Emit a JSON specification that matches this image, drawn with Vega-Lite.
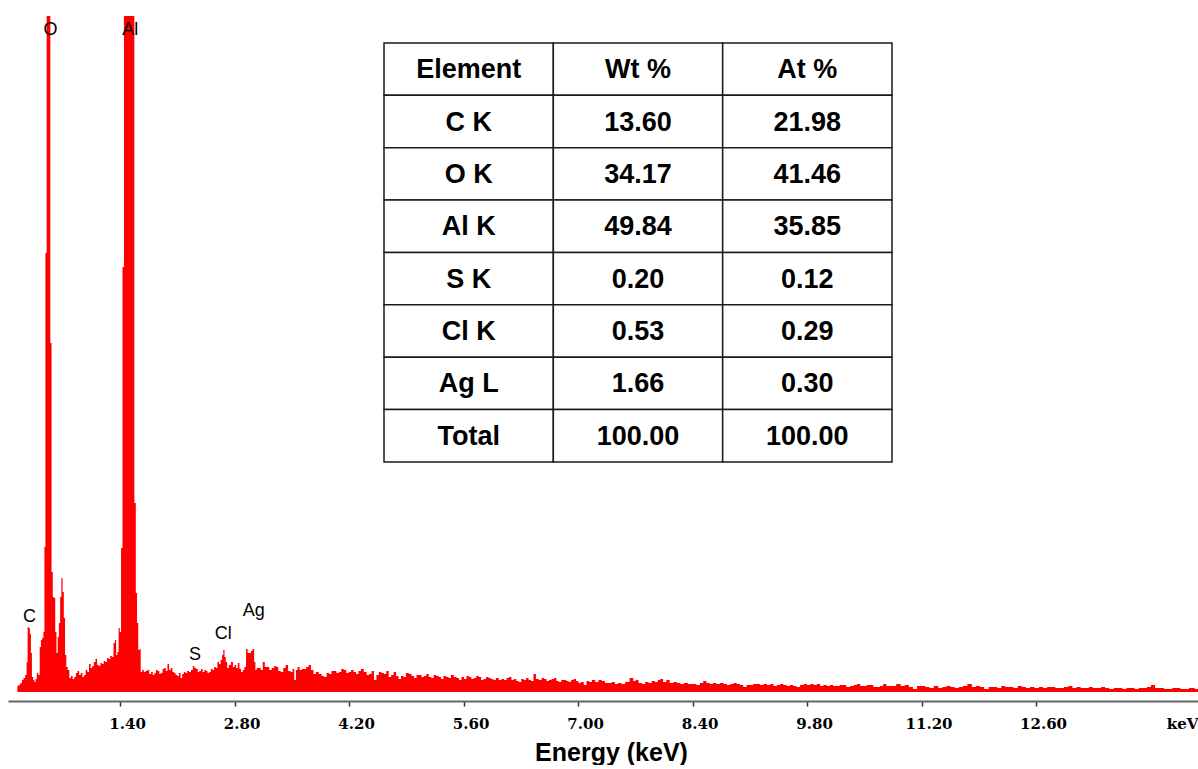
{
  "$schema": "https://vega.github.io/schema/vega-lite/v6.json",
  "width": 1190,
  "height": 676,
  "padding": {"left": 8, "top": 16, "right": 0, "bottom": 0},
  "background": "white",
  "config": {"view": {"stroke": null}},
  "datasets": {
    "spectrum": [
      {"energy":0.145,"counts":6},{"energy":0.17,"counts":7},{"energy":0.19,"counts":9},{"energy":0.21,"counts":12},{"energy":0.23,"counts":14},{"energy":0.25,"counts":17},{"energy":0.265,"counts":30},{"energy":0.275,"counts":65},{"energy":0.29,"counts":64},{"energy":0.305,"counts":58},{"energy":0.315,"counts":39},{"energy":0.33,"counts":15},{"energy":0.345,"counts":12},{"energy":0.36,"counts":10},{"energy":0.375,"counts":13},{"energy":0.39,"counts":19},{"energy":0.41,"counts":17},{"energy":0.425,"counts":45},{"energy":0.44,"counts":52},{"energy":0.455,"counts":54},{"energy":0.47,"counts":60},{"energy":0.48,"counts":145},{"energy":0.495,"counts":439},{"energy":0.51,"counts":1000},{"energy":0.525,"counts":1000},{"energy":0.54,"counts":1000},{"energy":0.555,"counts":349},{"energy":0.57,"counts":120},{"energy":0.585,"counts":95},{"energy":0.6,"counts":94},{"energy":0.615,"counts":60},{"energy":0.63,"counts":39},{"energy":0.645,"counts":55},{"energy":0.66,"counts":69},{"energy":0.675,"counts":95},{"energy":0.69,"counts":114},{"energy":0.705,"counts":100},{"energy":0.72,"counts":74},{"energy":0.735,"counts":37},{"energy":0.75,"counts":25},{"energy":0.77,"counts":22},{"energy":0.79,"counts":14},{"energy":0.81,"counts":16},{"energy":0.83,"counts":13},{"energy":0.85,"counts":15},{"energy":0.87,"counts":19},{"energy":0.89,"counts":21},{"energy":0.91,"counts":17},{"energy":0.93,"counts":19},{"energy":0.95,"counts":15},{"energy":0.97,"counts":17},{"energy":0.99,"counts":22},{"energy":1.01,"counts":20},{"energy":1.03,"counts":28},{"energy":1.05,"counts":24},{"energy":1.07,"counts":26},{"energy":1.09,"counts":30},{"energy":1.11,"counts":33},{"energy":1.13,"counts":27},{"energy":1.15,"counts":26},{"energy":1.17,"counts":29},{"energy":1.19,"counts":28},{"energy":1.21,"counts":31},{"energy":1.23,"counts":30},{"energy":1.25,"counts":34},{"energy":1.27,"counts":33},{"energy":1.29,"counts":36},{"energy":1.31,"counts":35},{"energy":1.33,"counts":49},{"energy":1.345,"counts":52},{"energy":1.36,"counts":37},{"energy":1.375,"counts":40},{"energy":1.39,"counts":64},{"energy":1.405,"counts":60},{"energy":1.42,"counts":144},{"energy":1.44,"counts":425},{"energy":1.455,"counts":1000},{"energy":1.48,"counts":1000},{"energy":1.5,"counts":1000},{"energy":1.52,"counts":1000},{"energy":1.545,"counts":1000},{"energy":1.565,"counts":1000},{"energy":1.585,"counts":189},{"energy":1.6,"counts":99},{"energy":1.615,"counts":69},{"energy":1.63,"counts":42},{"energy":1.645,"counts":43},{"energy":1.66,"counts":20},{"energy":1.68,"counts":22},{"energy":1.7,"counts":20},{"energy":1.72,"counts":21},{"energy":1.745,"counts":22},{"energy":1.77,"counts":18},{"energy":1.79,"counts":20},{"energy":1.81,"counts":17},{"energy":1.83,"counts":19},{"energy":1.85,"counts":22},{"energy":1.87,"counts":21},{"energy":1.89,"counts":18},{"energy":1.91,"counts":19},{"energy":1.93,"counts":23},{"energy":1.95,"counts":24},{"energy":1.97,"counts":21},{"energy":1.99,"counts":28},{"energy":2.01,"counts":22},{"energy":2.03,"counts":24},{"energy":2.05,"counts":20},{"energy":2.07,"counts":19},{"energy":2.09,"counts":17},{"energy":2.11,"counts":16},{"energy":2.13,"counts":19},{"energy":2.15,"counts":14},{"energy":2.17,"counts":18},{"energy":2.19,"counts":20},{"energy":2.21,"counts":19},{"energy":2.23,"counts":21},{"energy":2.256,"counts":20},{"energy":2.28,"counts":22},{"energy":2.3,"counts":26},{"energy":2.32,"counts":24},{"energy":2.34,"counts":23},{"energy":2.36,"counts":20},{"energy":2.38,"counts":21},{"energy":2.4,"counts":23},{"energy":2.42,"counts":20},{"energy":2.44,"counts":22},{"energy":2.46,"counts":21},{"energy":2.48,"counts":19},{"energy":2.5,"counts":20},{"energy":2.52,"counts":23},{"energy":2.54,"counts":22},{"energy":2.56,"counts":25},{"energy":2.58,"counts":24},{"energy":2.6,"counts":30},{"energy":2.62,"counts":28},{"energy":2.64,"counts":32},{"energy":2.655,"counts":37},{"energy":2.67,"counts":42},{"energy":2.685,"counts":35},{"energy":2.7,"counts":30},{"energy":2.72,"counts":24},{"energy":2.74,"counts":27},{"energy":2.77,"counts":30},{"energy":2.79,"counts":25},{"energy":2.81,"counts":27},{"energy":2.83,"counts":24},{"energy":2.85,"counts":29},{"energy":2.87,"counts":23},{"energy":2.89,"counts":20},{"energy":2.91,"counts":22},{"energy":2.93,"counts":25},{"energy":2.95,"counts":43},{"energy":2.97,"counts":39},{"energy":2.99,"counts":39},{"energy":3.01,"counts":41},{"energy":3.03,"counts":43},{"energy":3.05,"counts":30},{"energy":3.06,"counts":22},{"energy":3.08,"counts":24},{"energy":3.11,"counts":24},{"energy":3.13,"counts":22},{"energy":3.16,"counts":30},{"energy":3.18,"counts":25},{"energy":3.21,"counts":25},{"energy":3.24,"counts":22},{"energy":3.27,"counts":24},{"energy":3.3,"counts":26},{"energy":3.32,"counts":25},{"energy":3.35,"counts":21},{"energy":3.38,"counts":20},{"energy":3.41,"counts":24},{"energy":3.44,"counts":27},{"energy":3.47,"counts":21},{"energy":3.5,"counts":20},{"energy":3.52,"counts":23},{"energy":3.54,"counts":12},{"energy":3.56,"counts":22},{"energy":3.58,"counts":25},{"energy":3.61,"counts":22},{"energy":3.64,"counts":23},{"energy":3.66,"counts":23},{"energy":3.69,"counts":25},{"energy":3.72,"counts":27},{"energy":3.75,"counts":22},{"energy":3.78,"counts":18},{"energy":3.81,"counts":20},{"energy":3.85,"counts":18},{"energy":3.88,"counts":16},{"energy":3.91,"counts":15},{"energy":3.94,"counts":19},{"energy":3.97,"counts":18},{"energy":4.0,"counts":21},{"energy":4.03,"counts":21},{"energy":4.06,"counts":19},{"energy":4.09,"counts":20},{"energy":4.12,"counts":23},{"energy":4.15,"counts":22},{"energy":4.18,"counts":19},{"energy":4.21,"counts":20},{"energy":4.24,"counts":22},{"energy":4.27,"counts":20},{"energy":4.3,"counts":18},{"energy":4.33,"counts":21},{"energy":4.36,"counts":23},{"energy":4.4,"counts":20},{"energy":4.43,"counts":17},{"energy":4.46,"counts":18},{"energy":4.49,"counts":21},{"energy":4.52,"counts":12},{"energy":4.55,"counts":17},{"energy":4.58,"counts":20},{"energy":4.61,"counts":19},{"energy":4.64,"counts":18},{"energy":4.67,"counts":21},{"energy":4.7,"counts":15},{"energy":4.73,"counts":17},{"energy":4.76,"counts":20},{"energy":4.79,"counts":16},{"energy":4.82,"counts":13},{"energy":4.85,"counts":16},{"energy":4.88,"counts":15},{"energy":4.91,"counts":19},{"energy":4.95,"counts":18},{"energy":4.98,"counts":16},{"energy":5.01,"counts":14},{"energy":5.04,"counts":17},{"energy":5.07,"counts":17},{"energy":5.1,"counts":15},{"energy":5.13,"counts":16},{"energy":5.16,"counts":18},{"energy":5.19,"counts":15},{"energy":5.22,"counts":14},{"energy":5.25,"counts":17},{"energy":5.28,"counts":16},{"energy":5.31,"counts":15},{"energy":5.34,"counts":13},{"energy":5.37,"counts":16},{"energy":5.4,"counts":15},{"energy":5.43,"counts":14},{"energy":5.46,"counts":17},{"energy":5.5,"counts":15},{"energy":5.53,"counts":14},{"energy":5.56,"counts":12},{"energy":5.59,"counts":15},{"energy":5.62,"counts":13},{"energy":5.65,"counts":16},{"energy":5.68,"counts":15},{"energy":5.71,"counts":13},{"energy":5.74,"counts":14},{"energy":5.77,"counts":16},{"energy":5.8,"counts":15},{"energy":5.83,"counts":12},{"energy":5.86,"counts":13},{"energy":5.89,"counts":15},{"energy":5.92,"counts":14},{"energy":5.95,"counts":13},{"energy":5.98,"counts":12},{"energy":6.01,"counts":14},{"energy":6.05,"counts":12},{"energy":6.08,"counts":13},{"energy":6.11,"counts":12},{"energy":6.14,"counts":14},{"energy":6.17,"counts":15},{"energy":6.2,"counts":12},{"energy":6.23,"counts":13},{"energy":6.26,"counts":11},{"energy":6.29,"counts":10},{"energy":6.32,"counts":13},{"energy":6.35,"counts":12},{"energy":6.38,"counts":14},{"energy":6.41,"counts":12},{"energy":6.44,"counts":11},{"energy":6.47,"counts":18},{"energy":6.5,"counts":13},{"energy":6.54,"counts":12},{"energy":6.57,"counts":14},{"energy":6.6,"counts":13},{"energy":6.63,"counts":11},{"energy":6.66,"counts":12},{"energy":6.69,"counts":13},{"energy":6.72,"counts":14},{"energy":6.75,"counts":11},{"energy":6.78,"counts":10},{"energy":6.81,"counts":12},{"energy":6.84,"counts":12},{"energy":6.87,"counts":11},{"energy":6.9,"counts":10},{"energy":6.93,"counts":12},{"energy":6.96,"counts":13},{"energy":6.99,"counts":11},{"energy":7.02,"counts":9},{"energy":7.05,"counts":10},{"energy":7.09,"counts":7},{"energy":7.12,"counts":11},{"energy":7.15,"counts":10},{"energy":7.19,"counts":12},{"energy":7.23,"counts":10},{"energy":7.27,"counts":12},{"energy":7.31,"counts":11},{"energy":7.35,"counts":9},{"energy":7.39,"counts":9},{"energy":7.43,"counts":10},{"energy":7.47,"counts":8},{"energy":7.51,"counts":9},{"energy":7.55,"counts":8},{"energy":7.6,"counts":10},{"energy":7.66,"counts":14},{"energy":7.69,"counts":11},{"energy":7.72,"counts":12},{"energy":7.76,"counts":9},{"energy":7.8,"counts":8},{"energy":7.84,"counts":10},{"energy":7.88,"counts":9},{"energy":7.92,"counts":11},{"energy":7.96,"counts":10},{"energy":7.99,"counts":12},{"energy":8.02,"counts":13},{"energy":8.06,"counts":10},{"energy":8.1,"counts":12},{"energy":8.14,"counts":9},{"energy":8.19,"counts":10},{"energy":8.23,"counts":9},{"energy":8.27,"counts":8},{"energy":8.32,"counts":9},{"energy":8.37,"counts":8},{"energy":8.42,"counts":8},{"energy":8.47,"counts":7},{"energy":8.51,"counts":9},{"energy":8.55,"counts":11},{"energy":8.59,"counts":9},{"energy":8.63,"counts":8},{"energy":8.67,"counts":9},{"energy":8.71,"counts":8},{"energy":8.76,"counts":9},{"energy":8.8,"counts":8},{"energy":8.84,"counts":7},{"energy":8.88,"counts":8},{"energy":8.92,"counts":9},{"energy":8.96,"counts":8},{"energy":9.0,"counts":7},{"energy":9.04,"counts":5},{"energy":9.08,"counts":7},{"energy":9.12,"counts":7},{"energy":9.16,"counts":8},{"energy":9.2,"counts":8},{"energy":9.25,"counts":7},{"energy":9.29,"counts":8},{"energy":9.33,"counts":7},{"energy":9.37,"counts":8},{"energy":9.41,"counts":6},{"energy":9.45,"counts":7},{"energy":9.49,"counts":8},{"energy":9.53,"counts":7},{"energy":9.57,"counts":6},{"energy":9.61,"counts":7},{"energy":9.65,"counts":6},{"energy":9.69,"counts":5},{"energy":9.74,"counts":7},{"energy":9.78,"counts":8},{"energy":9.82,"counts":7},{"energy":9.86,"counts":8},{"energy":9.9,"counts":7},{"energy":9.94,"counts":8},{"energy":9.98,"counts":6},{"energy":10.02,"counts":7},{"energy":10.06,"counts":6},{"energy":10.1,"counts":7},{"energy":10.14,"counts":6},{"energy":10.18,"counts":6},{"energy":10.22,"counts":7},{"energy":10.26,"counts":7},{"energy":10.3,"counts":5},{"energy":10.35,"counts":6},{"energy":10.39,"counts":7},{"energy":10.43,"counts":8},{"energy":10.47,"counts":6},{"energy":10.51,"counts":6},{"energy":10.55,"counts":7},{"energy":10.59,"counts":7},{"energy":10.63,"counts":5},{"energy":10.67,"counts":5},{"energy":10.71,"counts":6},{"energy":10.75,"counts":8},{"energy":10.79,"counts":6},{"energy":10.86,"counts":6},{"energy":10.92,"counts":8},{"energy":10.97,"counts":6},{"energy":11.02,"counts":7},{"energy":11.07,"counts":5},{"energy":11.12,"counts":3},{"energy":11.17,"counts":6},{"energy":11.22,"counts":6},{"energy":11.27,"counts":5},{"energy":11.32,"counts":4},{"energy":11.38,"counts":6},{"energy":11.43,"counts":4},{"energy":11.48,"counts":5},{"energy":11.53,"counts":6},{"energy":11.58,"counts":5},{"energy":11.63,"counts":4},{"energy":11.68,"counts":5},{"energy":11.73,"counts":6},{"energy":11.79,"counts":8},{"energy":11.84,"counts":5},{"energy":11.89,"counts":6},{"energy":11.94,"counts":5},{"energy":11.99,"counts":3},{"energy":12.05,"counts":5},{"energy":12.1,"counts":5},{"energy":12.15,"counts":4},{"energy":12.2,"counts":6},{"energy":12.25,"counts":5},{"energy":12.3,"counts":5},{"energy":12.35,"counts":4},{"energy":12.4,"counts":6},{"energy":12.45,"counts":5},{"energy":12.5,"counts":4},{"energy":12.55,"counts":5},{"energy":12.61,"counts":4},{"energy":12.66,"counts":5},{"energy":12.71,"counts":4},{"energy":12.76,"counts":5},{"energy":12.81,"counts":5},{"energy":12.86,"counts":4},{"energy":12.91,"counts":4},{"energy":12.97,"counts":5},{"energy":13.02,"counts":6},{"energy":13.07,"counts":4},{"energy":13.12,"counts":5},{"energy":13.17,"counts":4},{"energy":13.22,"counts":4},{"energy":13.27,"counts":5},{"energy":13.32,"counts":4},{"energy":13.37,"counts":4},{"energy":13.42,"counts":5},{"energy":13.47,"counts":4},{"energy":13.52,"counts":3},{"energy":13.58,"counts":4},{"energy":13.63,"counts":4},{"energy":13.68,"counts":3},{"energy":13.73,"counts":4},{"energy":13.78,"counts":4},{"energy":13.83,"counts":3},{"energy":13.88,"counts":4},{"energy":13.93,"counts":4},{"energy":13.98,"counts":5},{"energy":14.03,"counts":7},{"energy":14.08,"counts":4},{"energy":14.14,"counts":4},{"energy":14.19,"counts":3},{"energy":14.24,"counts":3},{"energy":14.29,"counts":4},{"energy":14.34,"counts":4},{"energy":14.39,"counts":3},{"energy":14.44,"counts":3},{"energy":14.5,"counts":4},{"energy":14.58,"counts":3}
    ],
    "peaks": [
      {"element":"O","energy":0.55,"labelY":657},
      {"element":"Al","energy":1.526,"labelY":657},
      {"element":"C","energy":0.293,"labelY":70},
      {"element":"S","energy":2.317,"labelY":32},
      {"element":"Cl","energy":2.663,"labelY":53},
      {"element":"Ag","energy":3.036,"labelY":76}
    ],
    "table": [
      {"r":0,"c":0,"v":"Element"},{"r":0,"c":1,"v":"Wt %"},{"r":0,"c":2,"v":"At %"},
      {"r":1,"c":0,"v":"C K"},{"r":1,"c":1,"v":"13.60"},{"r":1,"c":2,"v":"21.98"},
      {"r":2,"c":0,"v":"O K"},{"r":2,"c":1,"v":"34.17"},{"r":2,"c":2,"v":"41.46"},
      {"r":3,"c":0,"v":"Al K"},{"r":3,"c":1,"v":"49.84"},{"r":3,"c":2,"v":"35.85"},
      {"r":4,"c":0,"v":"S K"},{"r":4,"c":1,"v":"0.20"},{"r":4,"c":2,"v":"0.12"},
      {"r":5,"c":0,"v":"Cl K"},{"r":5,"c":1,"v":"0.53"},{"r":5,"c":2,"v":"0.29"},
      {"r":6,"c":0,"v":"Ag L"},{"r":6,"c":1,"v":"1.66"},{"r":6,"c":2,"v":"0.30"},
      {"r":7,"c":0,"v":"Total"},{"r":7,"c":1,"v":"100.00"},{"r":7,"c":2,"v":"100.00"}
    ]
  },
  "layer": [
    {
      "layer": [
        {
          "data": {"name": "spectrum"},
          "mark": {"type": "area", "interpolate": "step", "color": "#ff0000", "clip": true},
          "encoding": {
            "x": {
              "field": "energy", "type": "quantitative",
              "scale": {"domain": [0.03, 14.58], "nice": false, "zero": false},
              "axis": {
                "values": [1.4, 2.8, 4.2, 5.6, 7.0, 8.4, 9.8, 11.2, 12.6, 14.3],
                "labelExpr": "datum.value > 14 ? 'keV' : format(datum.value, '.2f')",
                "tickOpacity": {"condition": {"test": "datum.value > 14", "value": 0}, "value": 1},
                "offset": 9,
                "grid": false,
                "domainColor": "#666666",
                "domainWidth": 2,
                "tickColor": "#333333",
                "tickWidth": 1.5,
                "tickSize": 5,
                "labelFont": "DejaVu Serif",
                "labelFontWeight": "bold",
                "labelFontSize": 15,
                "labelColor": "#000000",
                "labelOffset": 7,
                "labelPadding": 10,
                "labelFlush": false,
                "labelOverlap": false,
                "title": "Energy (keV)",
                "titleFont": "Liberation Sans",
                "titleFontWeight": "bold",
                "titleFontSize": 25,
                "titleColor": "#000000",
                "titlePadding": 9,
                "titleX": 603
              }
            },
            "y": {
              "field": "counts", "type": "quantitative",
              "scale": {"domain": [0, 676], "nice": false},
              "axis": null
            }
          }
        },
        {
          "data": {"name": "peaks"},
          "mark": {"type": "text", "font": "Liberation Sans", "fontSize": 18, "baseline": "alphabetic", "align": "center", "color": "#000000"},
          "encoding": {
            "x": {"field": "energy", "type": "quantitative", "scale": {"domain": [0.03, 14.58], "nice": false, "zero": false}},
            "y": {"field": "labelY", "type": "quantitative", "scale": {"domain": [0, 676], "nice": false}},
            "text": {"field": "element"}
          }
        }
      ]
    },
    {
      "data": {"name": "table"},
      "encoding": {
        "x": {"field": "c", "type": "ordinal", "scale": {"domain": [-2, -1, 0, 1, 2, 3], "paddingInner": 0, "paddingOuter": 0.5138, "align": 0.2146, "round": false}, "axis": null},
        "y": {"field": "r", "type": "ordinal", "scale": {"domain": [0, 1, 2, 3, 4, 5, 6, 7, 8, 9, 10, 11], "paddingInner": 0, "paddingOuter": 0.4535, "align": 0.568, "round": false}, "axis": null}
      },
      "layer": [
        {"mark": {"type": "rect", "fill": "#ffffff", "stroke": "#1a1a1a", "strokeWidth": 1.5}},
        {
          "mark": {"type": "text", "font": "Liberation Sans", "fontWeight": "bold", "fontSize": 27, "baseline": "middle", "align": "center", "color": "#000000", "dy": 1},
          "encoding": {"text": {"field": "v"}}
        }
      ]
    }
  ],
  "resolve": {"scale": {"x": "independent", "y": "independent"}}
}
